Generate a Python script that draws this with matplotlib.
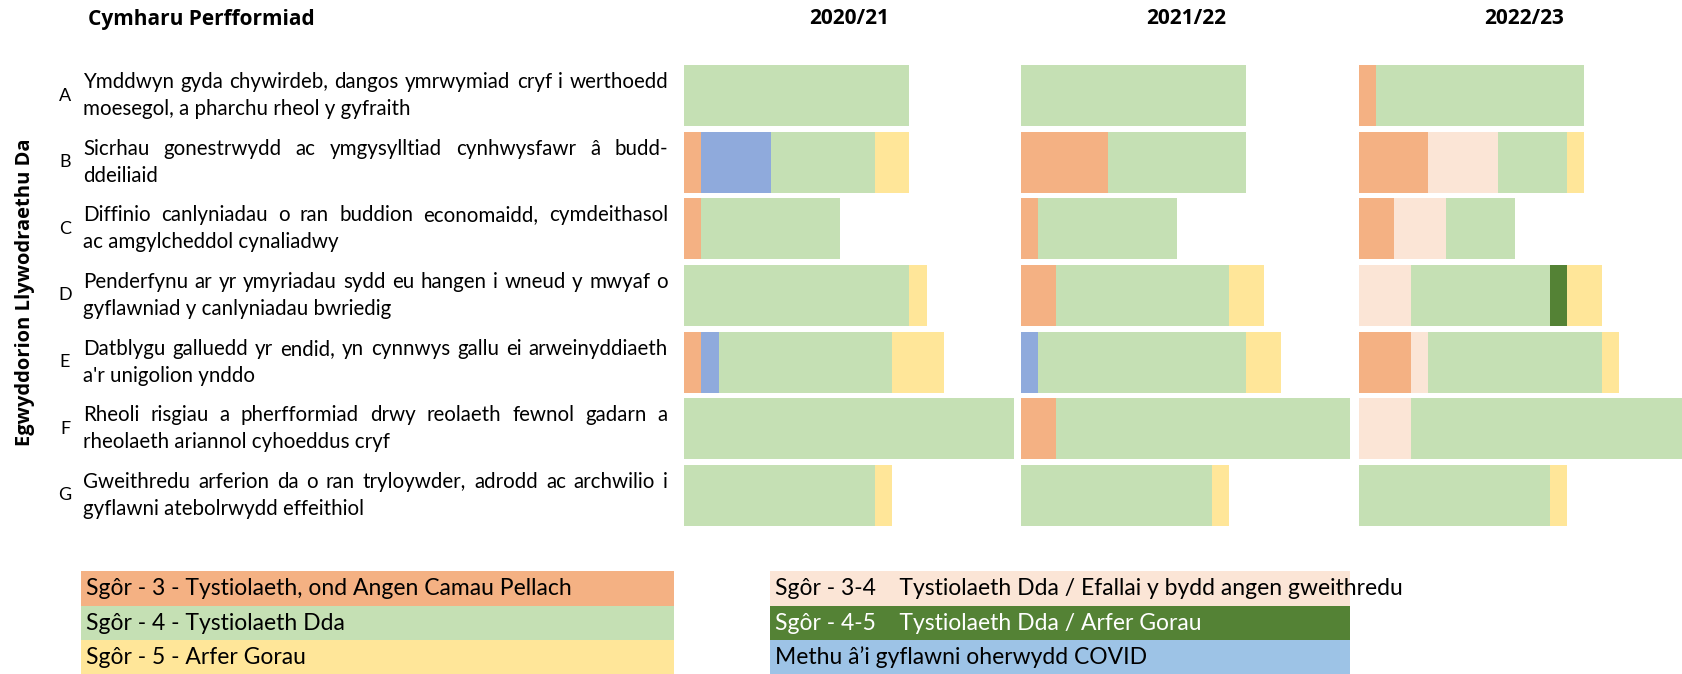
import matplotlib
matplotlib.use('Agg')
import matplotlib.pyplot as plt
from matplotlib.patches import Rectangle
import numpy as np

W, H = 1683, 674

years = ['2020/21', '2021/22', '2022/23']
letters = ['A', 'B', 'C', 'D', 'E', 'F', 'G']
descriptions = [
    ['Ymddwyn gyda chywirdeb, dangos ymrwymiad cryf i werthoedd', 'moesegol, a pharchu rheol y gyfraith'],
    ['Sicrhau gonestrwydd ac ymgysylltiad cynhwysfawr â budd-', 'ddeiliaid'],
    ['Diffinio canlyniadau o ran buddion economaidd, cymdeithasol', 'ac amgylcheddol cynaliadwy'],
    ['Penderfynu ar yr ymyriadau sydd eu hangen i wneud y mwyaf o', 'gyflawniad y canlyniadau bwriedig'],
    ['Datblygu galluedd yr endid, yn cynnwys gallu ei arweinyddiaeth', "a'r unigolion ynddo"],
    ['Rheoli risgiau a pherfformiad drwy reolaeth fewnol gadarn a', 'rheolaeth ariannol cyhoeddus cryf'],
    ['Gweithredu arferion da o ran tryloywder, adrodd ac archwilio i', 'gyflawni atebolrwydd effeithiol'],
]

# counts per principle (A-G), one list per score band and year
score3 = {'2020/21': [0, 1, 1, 0, 1, 0, 0],
          '2021/22': [0, 5, 1, 2, 0, 2, 0],
          '2022/23': [1, 4, 2, 0, 3, 0, 0]}
covid = {'2020/21': [0, 4, 0, 0, 1, 0, 0],
         '2021/22': [0, 0, 0, 0, 1, 0, 0],
         '2022/23': [0, 0, 0, 0, 0, 0, 0]}
score34 = {'2020/21': [0, 0, 0, 0, 0, 0, 0],
           '2021/22': [0, 0, 0, 0, 0, 0, 0],
           '2022/23': [0, 4, 3, 3, 1, 3, 0]}
score4 = {'2020/21': [13, 6, 8, 13, 10, 19, 11],
          '2021/22': [13, 8, 8, 10, 12, 17, 11],
          '2022/23': [12, 4, 4, 8, 10, 16, 11]}
score45 = {'2020/21': [0, 0, 0, 0, 0, 0, 0],
           '2021/22': [0, 0, 0, 0, 0, 0, 0],
           '2022/23': [0, 0, 0, 1, 0, 0, 0]}
score5 = {'2020/21': [0, 2, 0, 1, 3, 0, 1],
          '2021/22': [0, 0, 0, 2, 2, 0, 1],
          '2022/23': [0, 1, 0, 2, 1, 0, 1]}

series = [score3, covid, score34, score4, score45, score5]
bar_colors = ['#F4B183', '#8FAADC', '#FBE5D6', '#C5E0B4', '#548235', '#FFE699']

legend_left = ['Sgôr - 3 - Tystiolaeth, ond Angen Camau Pellach',
               'Sgôr - 4 - Tystiolaeth Dda',
               'Sgôr - 5 - Arfer Gorau']
legend_left_colors = ['#F4B183', '#C5E0B4', '#FFE699']
legend_right = ['Sgôr - 3-4    Tystiolaeth Dda / Efallai y bydd angen gweithredu',
                'Sgôr - 4-5    Tystiolaeth Dda / Arfer Gorau',
                'Methu â’i gyflawni oherwydd COVID']
legend_right_colors = ['#FBE5D6', '#548235', '#9DC3E6']
legend_right_text = ['black', 'white', 'black']

TEXT_FONT = 'Lato'
HEAD_FONT = 'Open Sans'


def fx(x):
    return x / W


def fy(y):
    return 1 - y / H


fig = plt.figure(figsize=(W / 100, H / 100), dpi=100)

# bar panels, one per year
panel_left = [684, 1021, 1359]
panel_w = 329.5
top, bottom = 62.2, 528.8
for i, yr in enumerate(years):
    ax = fig.add_axes([fx(panel_left[i]), fy(bottom), panel_w / W, (bottom - top) / H])
    y = np.arange(len(letters))
    left = np.zeros(len(letters))
    for s, c in zip(series, bar_colors):
        vals = np.array(s[yr])
        ax.barh(y, vals, left=left, height=0.915, color=c, linewidth=0)
        left += vals
    ax.set_xlim(0, 19)
    ax.set_ylim(len(letters) - 0.5, -0.5)
    ax.axis('off')
    fig.text(fx(panel_left[i] + panel_w / 2), fy(19), yr, ha='center', va='center',
             fontsize=15, fontweight='bold', family=HEAD_FONT)

fig.text(fx(88), fy(19), 'Cymharu Perfformiad', ha='left', va='center',
         fontsize=15, fontweight='bold', family=HEAD_FONT)
fig.text(fx(25), fy(292), 'Egwyddorion Llywodraethu Da', rotation=90, ha='center', va='center',
         fontsize=14.5, fontweight='bold', family=HEAD_FONT)

renderer = fig.canvas.get_renderer()
pitch = (bottom - top) / len(letters)
text_x0, text_x1 = 83, 668
line_gap = 13.5
for i, (letter, lines) in enumerate(zip(letters, descriptions)):
    yc = top + pitch * (i + 0.5)
    fig.text(fx(65), fy(yc), letter, ha='center', va='center', fontsize=13, family=TEXT_FONT)
    # first line justified
    words = lines[0].split(' ')
    objs = [fig.text(0, fy(yc - line_gap), w, ha='left', va='center', fontsize=14.8, family=TEXT_FONT)
            for w in words]
    widths = [o.get_window_extent(renderer).width for o in objs]
    space = (text_x1 - text_x0 - sum(widths)) / (len(words) - 1)
    x = text_x0
    for o, w in zip(objs, widths):
        o.set_x(fx(x))
        x += w + space
    fig.text(fx(text_x0), fy(yc + line_gap), lines[1], ha='left', va='center', fontsize=14.8,
             family=TEXT_FONT)

# legend boxes
rows_y = [571, 606, 640, 674]
for j in range(3):
    fig.patches.append(Rectangle((fx(81.5), fy(rows_y[j + 1])), (674 - 81.5) / W,
                                 (rows_y[j + 1] - rows_y[j]) / H, transform=fig.transFigure,
                                 facecolor=legend_left_colors[j], edgecolor='none'))
    fig.text(fx(86), fy((rows_y[j] + rows_y[j + 1]) / 2), legend_left[j], ha='left', va='center',
             fontsize=16.5, family=TEXT_FONT)
    fig.patches.append(Rectangle((fx(770), fy(rows_y[j + 1])), (1350 - 770) / W,
                                 (rows_y[j + 1] - rows_y[j]) / H, transform=fig.transFigure,
                                 facecolor=legend_right_colors[j], edgecolor='none'))
    fig.text(fx(775), fy((rows_y[j] + rows_y[j + 1]) / 2), legend_right[j], ha='left', va='center',
             fontsize=16.5, family=TEXT_FONT, color=legend_right_text[j])

fig.savefig('out.png', dpi=100)
